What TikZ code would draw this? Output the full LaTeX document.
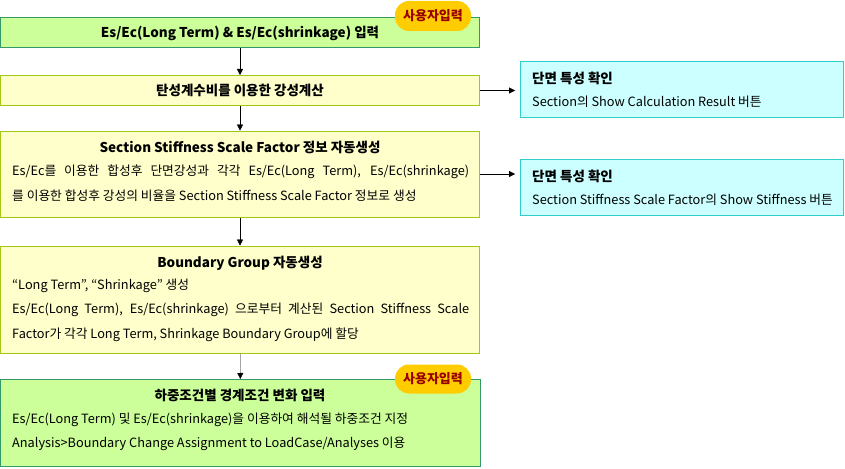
\documentclass[tikz,border=0pt]{standalone}
\usepackage{fontspec}
\setmainfont{Noto Sans CJK KR}
\usetikzlibrary{arrows.meta}
\definecolor{infill}{HTML}{CCFF99}
\definecolor{inline}{HTML}{339966}
\definecolor{procfill}{HTML}{FFFFCC}
\definecolor{procline}{HTML}{A0C814}
\definecolor{chkfill}{HTML}{CCFFFF}
\definecolor{chkline}{HTML}{33CCCC}
\definecolor{badgefill}{HTML}{FFCC00}
\definecolor{badgetext}{HTML}{990000}

\begin{document}
\begin{tikzpicture}[x=1pt, y=-1pt, >={Triangle[length=6pt,width=6pt]}, every node/.style={inner sep=0pt}, font=\fontsize{12.75}{15}\selectfont]
	\useasboundingbox (0,0) rectangle (845,468);

	\node[fill=infill, draw=inline, line width=1pt, minimum width=479pt, minimum height=30pt, font=\fontsize{13.5}{15}\selectfont\bfseries] (inp) at (240,33) {Es/Ec(Long Term) \& Es/Ec(shrinkage) 입력};
	\node[fill=badgefill, rounded corners=14pt, minimum width=76pt, minimum height=30pt, text=badgetext, font=\fontsize{13}{15}\selectfont\bfseries] (inpB) at (433,16) {사용자입력};

	\node[fill=procfill, draw=procline, line width=1pt, minimum width=479pt, minimum height=30pt, font=\fontsize{13.5}{15}\selectfont\bfseries] (stiff) at (240,90.5) {탄성계수비를 이용한 강성계산};

	\node[fill=procfill, draw=procline, line width=1pt, minimum width=479pt, minimum height=86pt] (sssf) at (240,174) {};
	\node[font=\fontsize{13.5}{15}\selectfont\bfseries] (sssfT) at (240,147) {Section Stiffness Scale Factor 정보 자동생성};
	\node[anchor=west] (sssfA) at (12,172) {\makebox[457pt][s]{Es/Ec를 이용한 합성후 단면강성과 각각 Es/Ec(Long Term), Es/Ec(shrinkage)}};
	\node[anchor=west] (sssfB) at (12,196) {를 이용한 합성후 강성의 비율을 Section Stiffness Scale Factor 정보로 생성};

	\node[fill=procfill, draw=procline, line width=1pt, minimum width=479pt, minimum height=107pt] (bgrp) at (240,299.5) {};
	\node[font=\fontsize{13.5}{15}\selectfont\bfseries] (bgrpT) at (240,263) {Boundary Group 자동생성};
	\node[anchor=west] (bgrpA) at (12,286) {“Long Term”, “Shrinkage” 생성};
	\node[anchor=west] (bgrpB) at (12,310) {\makebox[457pt][s]{Es/Ec(Long Term), Es/Ec(shrinkage) 으로부터 계산된 Section Stiffness Scale}};
	\node[anchor=west] (bgrpC) at (12,334.5) {Factor가 각각 Long Term, Shrinkage Boundary Group에 할당};

	\node[fill=infill, draw=inline, line width=1pt, minimum width=480pt, minimum height=87pt] (bchg) at (240.5,423) {};
	\node[fill=badgefill, rounded corners=14pt, minimum width=76pt, minimum height=29pt, text=badgetext, font=\fontsize{13}{15}\selectfont\bfseries] (bchgB) at (433,379) {사용자입력};
	\node[font=\fontsize{13.5}{15}\selectfont\bfseries] (bchgT) at (240,395) {하중조건별 경계조건 변화 입력};
	\node[anchor=west] (bchgA) at (12,420) {Es/Ec(Long Term) 및 Es/Ec(shrinkage)을 이용하여 해석될 하중조건 지정};
	\node[anchor=west] (bchgB2) at (12,443.5) {Analysis>Boundary Change Assignment to LoadCase/Analyses 이용};

	\node[fill=chkfill, draw=chkline, line width=1pt, minimum width=323pt, minimum height=56pt] (chk) at (682,90) {};
	\node[anchor=west, font=\fontsize{13.5}{15}\selectfont\bfseries] (chkT) at (532,78) {단면 특성 확인};
	\node[anchor=west] (chkA) at (532,102) {Section의 Show Calculation Result 버튼};

	\node[fill=chkfill, draw=chkline, line width=1pt, minimum width=323pt, minimum height=56pt] (chkf) at (682,187.5) {};
	\node[anchor=west, font=\fontsize{13.5}{15}\selectfont\bfseries] (chkfT) at (532,176) {단면 특성 확인};
	\node[anchor=west] (chkfA) at (532,200) {Section Stiffness Scale Factor의 Show Stiffness 버튼};

	\draw[->] (inp) -- (stiff);
	\draw[->] (stiff) -- (sssf);
	\draw[->] (sssf) -- (bgrp);
	\draw[->] (bgrp) -- (bchg);
	\draw[->, shorten >=5pt] (stiff.east) -- (stiff.east -| chk.west);
	\draw[->, shorten >=5pt] (sssf.east) -- (sssf.east -| chkf.west);
\end{tikzpicture}
\end{document}
